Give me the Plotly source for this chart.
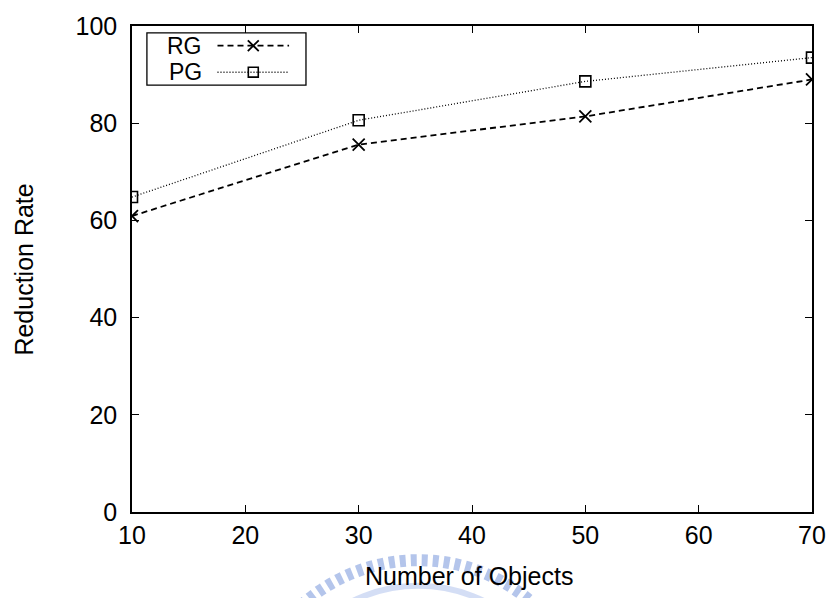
import plotly.graph_objects as go

# ---- data ----
objects = [10, 30, 50, 70]
rg_rate = [60.9, 75.6, 81.4, 89.0]
pg_rate = [64.8, 80.6, 88.6, 93.5]
x_ticks = [10, 20, 30, 40, 50, 60, 70]
y_ticks = [0, 20, 40, 60, 80, 100]
series_names = ["RG", "PG"]

W, H = 838, 598
L, R, T, B = 132, 22, 18, 86
PW, PH = W - L - R, H - T - B
FONT = "Liberation Sans, Arial, Helvetica, sans-serif"
FS = 25
LFS = 23


def px(xp):
    return (xp - L) / PW


def py(yp):
    return (H - B - yp) / PH


fig = go.Figure()
fig.add_trace(go.Scatter(
    x=objects, y=rg_rate, mode="lines+markers", name=series_names[0],
    line=dict(color="black", width=1.8, dash="6px,4px"),
    marker=dict(symbol="x-thin", size=12, line=dict(color="black", width=1.8)),
    showlegend=False))
fig.add_trace(go.Scatter(
    x=objects, y=pg_rate, mode="lines+markers", name=series_names[1],
    line=dict(color="black", width=1.3, dash="1px,2px"),
    marker=dict(symbol="square-open", size=11, color="black",
                line=dict(color="black", width=1.6)),
    showlegend=False))

shapes = []
annotations = []

# watermark (decorative seal behind the x title)
cx, cy = 420, 735
r1 = 174
shapes.append(dict(type="circle", xref="paper", yref="paper", layer="below",
                   x0=px(cx - r1), x1=px(cx + r1), y0=py(cy + r1), y1=py(cy - r1),
                   line=dict(color="rgba(130,158,222,0.6)", width=12, dash="6px,5px")))
r2 = 148
shapes.append(dict(type="circle", xref="paper", yref="paper", layer="below",
                   x0=px(cx - r2), x1=px(cx + r2), y0=py(cy + r2), y1=py(cy - r2),
                   line=dict(color="rgba(160,182,232,0.45)", width=6)))

# legend box
shapes.append(dict(type="rect", xref="paper", yref="paper",
                   x0=px(147), x1=px(307), y0=py(78), y1=py(25),
                   line=dict(color="black", width=1.3), fillcolor="white"))
rows = [38, 65]
for name, yy in zip(series_names, rows):
    annotations.append(dict(text=name, xref="paper", yref="paper", x=px(203), y=py(yy),
                            xanchor="right", yanchor="middle", showarrow=False,
                            borderpad=0,
                            font=dict(family=FONT, size=LFS, color="black")))
# RG sample
shapes.append(dict(type="line", xref="paper", yref="paper",
                   x0=px(218), x1=px(290), y0=py(rows[0]), y1=py(rows[0]),
                   line=dict(color="black", width=1.8, dash="6px,4px")))
m = 5.5
shapes.append(dict(type="path", xref="paper", yref="paper",
                   path=f"M {px(254-m)},{py(rows[0]-m)} L {px(254+m)},{py(rows[0]+m)} "
                        f"M {px(254-m)},{py(rows[0]+m)} L {px(254+m)},{py(rows[0]-m)}",
                   line=dict(color="black", width=1.8)))
# PG sample
shapes.append(dict(type="line", xref="paper", yref="paper",
                   x0=px(218), x1=px(290), y0=py(rows[1]), y1=py(rows[1]),
                   line=dict(color="black", width=1.3, dash="1px,2px")))
s = 5
shapes.append(dict(type="rect", xref="paper", yref="paper",
                   x0=px(254 - s), x1=px(254 + s), y0=py(rows[1] + s), y1=py(rows[1] - s),
                   line=dict(color="black", width=1.6)))

# axis titles
annotations.append(dict(text="Number of Objects", xref="paper", yref="paper",
                        x=px(471), y=py(577), xanchor="center", yanchor="middle",
                        showarrow=False, font=dict(family=FONT, size=FS, color="black")))
annotations.append(dict(text="Reduction Rate", xref="paper", yref="paper",
                        x=px(23), y=py(266), xanchor="center", yanchor="middle",
                        textangle=-90, showarrow=False,
                        font=dict(family=FONT, size=FS, color="black")))

axis_common = dict(showline=True, linecolor="black", linewidth=1.5, mirror="ticks",
                   ticks="inside", ticklen=7, tickwidth=1.2, tickcolor="black",
                   showgrid=False, zeroline=False,
                   tickfont=dict(family=FONT, size=FS, color="black"))

fig.update_layout(
    width=W, height=H,
    margin=dict(l=L, r=R, t=T, b=B),
    paper_bgcolor="white", plot_bgcolor="white",
    xaxis=dict(range=[10, 70], tickvals=x_ticks, ticktext=[str(v) for v in x_ticks], **axis_common),
    yaxis=dict(range=[0, 100], tickvals=y_ticks, ticktext=[str(v) for v in y_ticks],
               ticklabelstandoff=8, **axis_common),
    shapes=shapes, annotations=annotations,
    font=dict(family=FONT, size=FS, color="black"),
)

fig.write_html("out.html")
